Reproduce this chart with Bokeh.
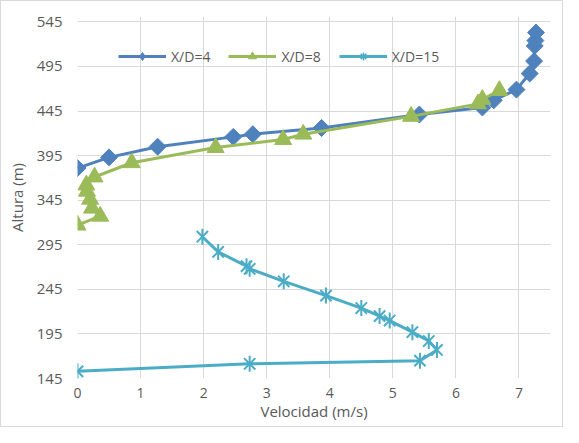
import math
from bokeh.plotting import figure
from bokeh.models import Range1d, FixedTicker, Legend, LegendItem, ColumnDataSource
from bokeh.embed import file_html
from bokeh.resources import INLINE

# X/D = 4
vel_4 = [0.0, 0.5, 1.27, 2.47, 2.78, 3.87, 5.42, 6.42, 6.6, 6.96, 7.17, 7.24, 7.25, 7.26, 7.27]
alt_4 = [381, 393, 405, 416, 419, 426, 441, 449, 457, 469, 487, 501, 518, 524, 533]
# X/D = 8
vel_8 = [0.0, 0.36, 0.23, 0.2, 0.15, 0.14, 0.27, 0.86, 2.19, 3.26, 3.58, 5.29, 6.35, 6.42, 6.69]
alt_8 = [317, 327, 336, 346, 355, 362, 371, 387, 404, 413, 419, 439, 453, 458, 468]
# X/D = 15
vel_15 = [0.0, 2.73, 5.43, 5.70, 5.57, 5.31, 4.95, 4.79, 4.5, 3.94, 3.27, 2.73, 2.68, 2.23, 1.98]
alt_15 = [153, 161.5, 165, 177, 187, 197, 210, 215, 224, 238, 254, 268, 271, 287, 304]

x_ticks = [0, 1, 2, 3, 4, 5, 6, 7]
y_ticks = [145, 195, 245, 295, 345, 395, 445, 495, 545]
series_names = ["X/D=4", "X/D=8", "X/D=15"]

BLUE = "#4F81BD"
GREEN = "#9BBB59"
CYAN = "#4BACC6"
TXT = "#595959"
GRID = "#D9D9D9"
FONT = "Open Sans"

p = figure(width=563, height=427, output_backend="svg", toolbar_location=None,
           x_range=Range1d(0, 7.5), y_range=Range1d(145, 551),
           min_border_left=76, min_border_right=14, min_border_top=15, min_border_bottom=50)
p.outline_line_color = None
p.background_fill_color = "white"
p.border_fill_color = "white"
p.styles = {"border": "1px solid #D9D9D9"}

p.xgrid.grid_line_color = GRID
p.ygrid.grid_line_color = GRID
p.xaxis.ticker = FixedTicker(ticks=x_ticks)
p.yaxis.ticker = FixedTicker(ticks=y_ticks)
for ax in (p.xaxis[0], p.yaxis[0]):
    ax.axis_line_color = None
    ax.major_tick_line_color = None
    ax.minor_tick_line_color = None
    ax.major_tick_out = 0
    ax.major_tick_in = 0
    ax.major_label_text_color = TXT
    ax.major_label_text_font = FONT
    ax.major_label_text_font_size = "15px"
    ax.axis_label_text_color = TXT
    ax.axis_label_text_font = FONT
    ax.axis_label_text_font_size = "15px"
    ax.axis_label_text_font_style = "normal"
p.xaxis.major_label_text_font_size = "14px"
p.xaxis.axis_label = "Velocidad (m/s)"
p.yaxis.axis_label = "Altura (m)"
p.xaxis.major_label_standoff = 9
p.yaxis.major_label_standoff = 15
p.xaxis.axis_label_standoff = 0
p.yaxis.axis_label_standoff = 7

s4 = ColumnDataSource(dict(x=vel_4, y=alt_4))
s8 = ColumnDataSource(dict(x=vel_8, y=alt_8))
s15 = ColumnDataSource(dict(x=vel_15, y=alt_15))

p.line("x", "y", source=s4, line_color=BLUE, line_width=3)
p.scatter("x", "y", source=s4, marker="square", angle=math.pi / 4, size=12,
          fill_color=BLUE, line_color=BLUE)
p.line("x", "y", source=s8, line_color=GREEN, line_width=3)
p.scatter("x", "y", source=s8, marker="triangle", size=17,
          fill_color=GREEN, line_color=GREEN)
p.line("x", "y", source=s15, line_color=CYAN, line_width=3)
p.scatter("x", "y", source=s15, marker="x", size=16, line_color=CYAN, line_width=2)
p.scatter("x", "y", source=s15, marker="dash", angle=math.pi / 2, size=16,
          line_color=CYAN, line_width=2)

# legend-only renderers (one point far outside the visible ranges) with smaller markers
def off():
    return ColumnDataSource(dict(x=[-100], y=[-100]))

g4l = p.line("x", "y", source=off(), line_color=BLUE, line_width=3)
g4m = p.scatter("x", "y", source=off(), marker="diamond", size=11,
                fill_color=BLUE, line_color=BLUE)
g8l = p.line("x", "y", source=off(), line_color=GREEN, line_width=3)
g8m = p.scatter("x", "y", source=off(), marker="triangle", size=10,
                fill_color=GREEN, line_color=GREEN)
g15l = p.line("x", "y", source=off(), line_color=CYAN, line_width=3)
g15a = p.scatter("x", "y", source=off(), marker="asterisk", size=11,
                 line_color=CYAN, line_width=1.5)

legend = Legend(items=[
    LegendItem(label=series_names[0], renderers=[g4l, g4m]),
    LegendItem(label=series_names[1], renderers=[g8l, g8m]),
    LegendItem(label=series_names[2], renderers=[g15l, g15a]),
], orientation="horizontal", location=(41, 312))
legend.background_fill_alpha = 0
legend.border_line_color = None
legend.label_text_font = FONT
legend.label_text_font_size = "14px"
legend.label_text_color = TXT
legend.glyph_width = 48
legend.spacing = 18
legend.label_standoff = 5
legend.padding = 4
p.add_layout(legend, "center")

open("out.html", "w").write(file_html(p, INLINE))
